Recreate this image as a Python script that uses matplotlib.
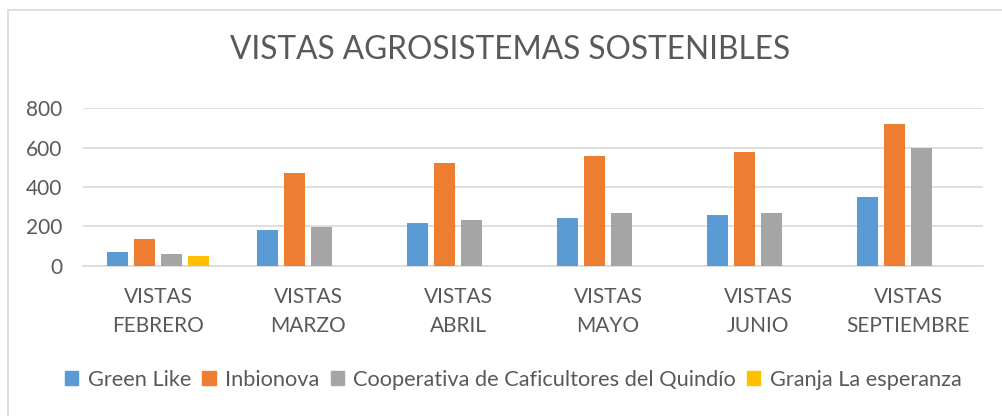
#!/usr/bin/env python3
"""Bar chart: vistas agrosistemas sostenibles."""

import matplotlib

matplotlib.use("Agg")

import matplotlib.pyplot as plt
from matplotlib.lines import Line2D
import numpy as np

categories = [
    "VISTAS\nFEBRERO",
    "VISTAS\nMARZO",
    "VISTAS\nABRIL",
    "VISTAS\nMAYO",
    "VISTAS\nJUNIO",
    "VISTAS\nSEPTIEMBRE",
]
series_names = [
    "Green Like",
    "Inbionova",
    "Cooperativa de Caficultores del Quindío",
    "Granja La esperanza",
]
green_like = [71, 181, 219, 242, 258, 349]
inbionova = [134, 469, 522, 558, 576, 719]
cooperativa = [58, 197, 232, 269, 269, 597]
granja = [51, 0, 0, 0, 0, 0]
yticks = [0, 200, 400, 600, 800]

colors = ["#5B9BD5", "#ED7D31", "#A5A5A5", "#FFC000"]
text_color = "#595959"
grid_color = "#D9D9D9"

plt.rcParams["font.family"] = ["Lato", "DejaVu Sans"]

fig = plt.figure(figsize=(10.02, 4.16), dpi=100)
ax = fig.add_axes([83 / 1002, 1 - 265.7 / 416, 900 / 1002, (265.7 - 108.3) / 416])

x = np.arange(len(categories))
step = 0.18
width = 0.143
all_series = [green_like, inbionova, cooperativa, granja]
for i, (vals, name, col) in enumerate(zip(all_series, series_names, colors)):
    ax.bar(x + (i - 1.5) * step, vals, width=width, color=col, label=name, zorder=3)

ax.set_xlim(-0.5, len(categories) - 0.5)
ax.set_ylim(0, 800)
ax.set_yticks(yticks)
ax.set_xticks(x)
ax.set_xticklabels(categories, linespacing=1.52)
ax.tick_params(axis="x", length=0, pad=15.5, labelsize=15, labelcolor=text_color)
ax.tick_params(axis="y", length=0, pad=15, labelsize=15, labelcolor=text_color)
ax.grid(axis="y", color=grid_color, linewidth=1.2, zorder=0)
for side in ["left", "right", "top"]:
    ax.spines[side].set_visible(False)
ax.spines["bottom"].set_color(grid_color)
ax.spines["bottom"].set_linewidth(1.2)

fig.text(0.509, 1 - 50 / 416, "VISTAS AGROSISTEMAS SOSTENIBLES",
         ha="center", va="center", fontsize=22.8, color=text_color)

handles = [plt.Rectangle((0, 0), 1, 1, color=c) for c in colors]
fig.legend(handles, series_names, loc="center", bbox_to_anchor=(513.5 / 1002, 1 - 380 / 416),
           ncol=4, frameon=False, fontsize=15.7, labelcolor=text_color,
           handlelength=0.6, handleheight=0.6, handletextpad=0.45, columnspacing=0.5)

# chart area border (left and top edges visible)
fig.add_artist(Line2D([8 / 1002, 8 / 1002], [0, 1 - 10 / 416], transform=fig.transFigure,
                      color=grid_color, linewidth=1.2))
fig.add_artist(Line2D([8 / 1002, 1], [1 - 10 / 416, 1 - 10 / 416], transform=fig.transFigure,
                      color=grid_color, linewidth=1.2))

fig.savefig("out.png", dpi=100)
plt.close(fig)
